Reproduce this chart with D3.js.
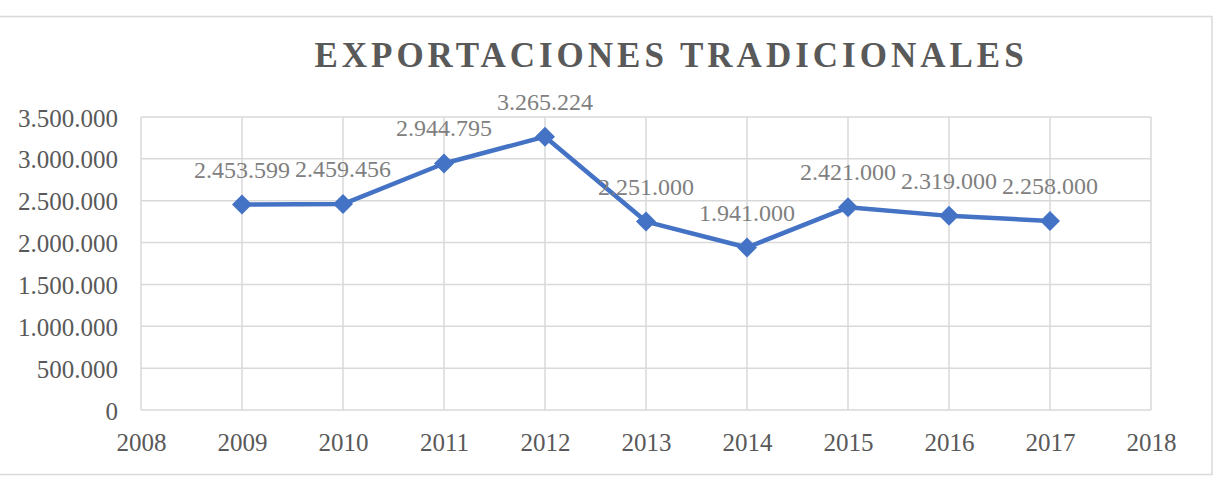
<!DOCTYPE html>
<html>
<head>
<meta charset="utf-8">
<script src="https://cdn.jsdelivr.net/npm/d3@7"></script>
<style>
  body { margin: 0; background: #fff; }
  svg { display: block; font-family: "Liberation Serif", "Times New Roman", serif; }
</style>
</head>
<body>
<div id="chart"></div>
<script>
/***** Data *****/
var years = [2009, 2010, 2011, 2012, 2013, 2014, 2015, 2016, 2017];
var exports = [2453599, 2459456, 2944795, 3265224, 2251000, 1941000, 2421000, 2319000, 2258000];
var xTicks = [2008, 2009, 2010, 2011, 2012, 2013, 2014, 2015, 2016, 2017, 2018];
var yTicks = [0, 500000, 1000000, 1500000, 2000000, 2500000, 3000000, 3500000];
var title = "EXPORTACIONES TRADICIONALES";

/***** Configuration *****/
var width = 1218, height = 483;
var plot = {left: 141, right: 1151, top: 117, bottom: 410};
var lineColor = "#4472c4";
var gridColor = "#d9d9d9";

var locale = d3.formatLocale({decimal: ",", thousands: ".", grouping: [3], currency: ["", ""]});
var fmt = locale.format(",d");

var svg = d3.select("#chart").append("svg")
  .attr("width", width)
  .attr("height", height);

// outer chart border (left edge falls off the picture)
svg.append("rect")
  .attr("x", -2)
  .attr("y", 16.5)
  .attr("width", 1214)
  .attr("height", 458)
  .attr("fill", "#fff")
  .attr("stroke", gridColor)
  .attr("stroke-width", 1.5);

svg.append("text")
  .attr("x", 671)
  .attr("y", 67)
  .attr("text-anchor", "middle")
  .attr("fill", "#595959")
  .attr("font-weight", "bold")
  .attr("font-size", 35)
  .attr("letter-spacing", "4px")
  .text(title);

var x = d3.scaleLinear().domain([2008, 2018]).range([plot.left, plot.right]);
var y = d3.scaleLinear().domain([0, 3500000]).range([plot.bottom, plot.top]);

// gridlines
var grid = svg.append("g").attr("stroke", gridColor).attr("stroke-width", 1.5);
grid.selectAll(".hg").data(yTicks).join("line")
  .attr("x1", plot.left).attr("x2", plot.right)
  .attr("y1", d => y(d)).attr("y2", d => y(d));
grid.selectAll(".vg").data(xTicks).join("line")
  .attr("y1", plot.top).attr("y2", plot.bottom)
  .attr("x1", d => x(d)).attr("x2", d => x(d));

// axes
var yAxis = svg.append("g")
  .attr("transform", "translate(" + plot.left + ",0)")
  .call(d3.axisLeft(y).tickValues(yTicks).tickFormat(fmt).tickSize(0).tickPadding(23));
var xAxis = svg.append("g")
  .attr("transform", "translate(0," + plot.bottom + ")")
  .call(d3.axisBottom(x).tickValues(xTicks).tickFormat(d3.format("d")).tickSize(0).tickPadding(23));
[xAxis, yAxis].forEach(function(a) {
  a.select(".domain").remove();
  a.selectAll("text")
    .attr("font-family", "Liberation Serif, Times New Roman, serif")
    .attr("font-size", 25)
    .attr("fill", "#595959");
});
yAxis.selectAll("text").attr("dy", "0.36em");

// series
var pts = years.map((yr, i) => ({year: yr, value: exports[i]}));
svg.append("path")
  .datum(pts)
  .attr("fill", "none")
  .attr("stroke", lineColor)
  .attr("stroke-width", 4.5)
  .attr("stroke-linejoin", "round")
  .attr("d", d3.line().x(d => x(d.year)).y(d => y(d.value)));

svg.selectAll(".marker").data(pts).join("path")
  .attr("transform", d => "translate(" + x(d.year) + "," + y(d.value) + ")")
  .attr("d", "M0,-10L10,0L0,10L-10,0Z")
  .attr("fill", lineColor);

svg.selectAll(".lbl").data(pts).join("text")
  .attr("x", d => x(d.year))
  .attr("y", d => y(d.value) - 27)
  .attr("text-anchor", "middle")
  .attr("font-size", 24)
  .attr("fill", "#808080")
  .text(d => fmt(d.value));
</script>
</body>
</html>
